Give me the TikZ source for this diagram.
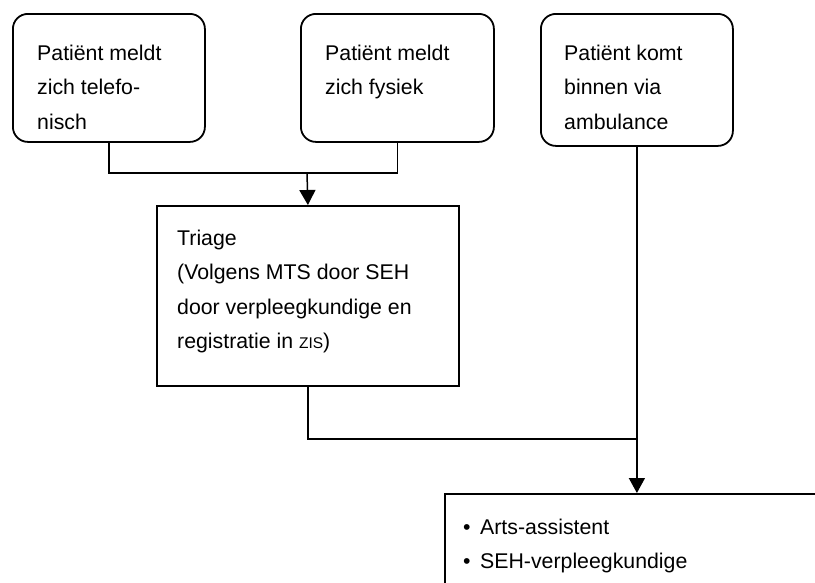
\documentclass[tikz,border=0pt]{standalone}
\usepackage{fontspec}
\setmainfont{Liberation Sans}
\usetikzlibrary{arrows.meta}
\begin{document}
\begin{tikzpicture}[x=1pt,y=-1pt,
  rbox/.style={draw, line width=1.8pt, rounded corners=15pt, anchor=north west, inner sep=0pt},
  sbox/.style={draw, line width=1.8pt, anchor=north west, inner sep=0pt},
  txt/.style={anchor=north west, inner sep=0pt, align=left,
    font=\fontsize{21.3}{34.5}\selectfont},
  link/.style={line width=1.5pt},
  flow/.style={line width=1.5pt, -{Triangle[width=16pt,length=15pt]}}]
\clip (0,0) rectangle (815,582);
\fill[white] (0,0) rectangle (815,582);
% source boxes
\node[rbox, minimum width=192pt, minimum height=128pt] (b1) at (12,13) {};
\node[rbox, minimum width=193pt, minimum height=128pt] (b2) at (300,13) {};
\node[rbox, minimum width=192pt, minimum height=132pt] (b3) at (540,13) {};
\node[txt] (t1) at (37,44) {\rule{0pt}{16pt}Patiënt meldt\\zich telefo-\\nisch};
\node[txt] (t2) at (325,44) {\rule{0pt}{16pt}Patiënt meldt\\zich fysiek};
\node[txt] (t3) at (564,44) {\rule{0pt}{16pt}Patiënt komt\\binnen via\\ambulance};
% triage box
\node[sbox, minimum width=302pt, minimum height=180pt] (tr) at (156,205) {};
\node[txt] (ttr) at (177,229) {\rule{0pt}{16pt}Triage\\(Volgens MTS door SEH\\door verpleegkundige en\\registratie in {\fontsize{15.5}{34.5}\selectfont ZIS})};
% staff box, running off the page
\node[sbox, minimum width=420pt, minimum height=150pt] (st) at (444,493) {};
\node[txt] (tst) at (463,518) {\rule{0pt}{16pt}\makebox[17pt][l]{•}Arts-assistent\\\makebox[17pt][l]{•}SEH-verpleegkundige};
% connectors
\coordinate (j1) at (307,173);
\coordinate (j2) at (637,439);
\draw[link] (b1.south) |- (j1) -| (b2.south);
\draw[flow] (j1) -- (tr.north);
\draw[link] (tr.south) |- (j2);
\draw[flow] (b3.south) -- (b3.south |- st.north);
\end{tikzpicture}
\end{document}
